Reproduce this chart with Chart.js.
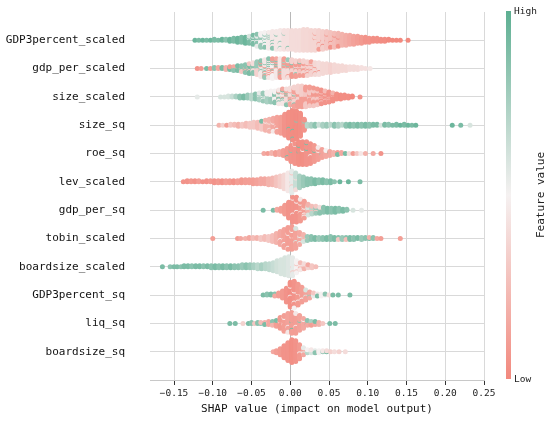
<!DOCTYPE html>
<html>
<head>
<meta charset="utf-8">
<script src="https://cdn.jsdelivr.net/npm/chart.js@4.4.1/dist/chart.umd.min.js"></script>
<style>
  html, body { margin: 0; padding: 0; background: #fff; }
  #wrap { width: 550px; height: 421px; }
</style>
</head>
<body>
<div id="wrap"><canvas id="shap-chart"></canvas></div>
<script>
// Features, top row first
const featureNames = [
  'GDP3percent_scaled', 'gdp_per_scaled', 'size_scaled', 'size_sq', 'roe_sq', 'lev_scaled',
  'gdp_per_sq', 'tobin_scaled', 'boardsize_scaled', 'GDP3percent_sq', 'liq_sq', 'boardsize_sq'
];

// Each bin: [SHAP value, number of samples, feature value 0 = low .. 1 = high]
const gdp3percentScaled = [
  [-0.123,1,0.95],[-0.118,1,0.9],[-0.113,1,0.95],[-0.108,1,0.9],[-0.103,1,0.95],[-0.098,2,0.9],[-0.093,1,0.9],
  [-0.088,2,0.95],[-0.083,2,0.85],[-0.078,3,0.95],[-0.073,4,0.9],[-0.068,5,0.95],[-0.063,6,0.9],[-0.058,7,0.95],
  [-0.053,6,0.9],[-0.053,2,0.6],[-0.048,7,0.9],[-0.048,3,0.55],[-0.043,8,0.85],[-0.043,5,0.55],[-0.038,7,0.8],
  [-0.038,8,0.5],[-0.033,5,0.85],[-0.033,11,0.5],[-0.028,4,0.8],[-0.028,13,0.47],[-0.023,3,0.85],[-0.023,15,0.45],
  [-0.018,2,0.85],[-0.018,17,0.45],[-0.013,2,0.8],[-0.013,18,0.45],[-0.008,1,0.8],[-0.008,19,0.42],[-0.003,19,0.42],
  [-0.003,1,0.85],[0.002,20,0.4],[0.007,21,0.4],[0.012,21,0.4],[0.017,22,0.38],[0.022,22,0.38],[0.027,21,0.37],
  [0.032,19,0.37],[0.032,2,0.1],[0.037,18,0.35],[0.037,2,0.1],[0.042,17,0.33],[0.042,2,0.05],[0.047,16,0.3],
  [0.047,2,0.1],[0.052,14,0.28],[0.052,2,0.05],[0.057,13,0.25],[0.057,2,0.05],[0.062,12,0.22],[0.062,2,0.05],
  [0.067,12,0.2],[0.072,11,0.18],[0.077,10,0.15],[0.082,9,0.12],[0.087,8,0.1],[0.092,7,0.08],[0.097,6,0.05],
  [0.102,5,0.05],[0.107,4,0.03],[0.112,4,0.03],[0.117,3,0.02],[0.122,3,0.02],[0.127,2,0],[0.132,1,0],
  [0.137,1,0],[0.142,1,0],[0.152,1,0]
];
const gdpPerScaled = [
  [-0.12,1,0.05],[-0.115,1,0.1],[-0.108,1,0.9],[-0.103,1,0.1],[-0.098,2,0.85],[-0.093,2,0.15],[-0.088,2,0.9],
  [-0.083,2,0.2],[-0.083,1,0.9],[-0.078,3,0.9],[-0.078,1,0.1],[-0.073,3,0.85],[-0.073,2,0.15],[-0.068,4,0.9],
  [-0.068,2,0.2],[-0.063,5,0.85],[-0.063,2,0.3],[-0.058,6,0.85],[-0.058,3,0.2],[-0.053,7,0.9],[-0.053,4,0.3],
  [-0.048,7,0.85],[-0.048,5,0.4],[-0.043,7,0.8],[-0.043,7,0.35],[-0.038,6,0.85],[-0.038,8,0.45],[-0.038,3,0.1],
  [-0.033,6,0.8],[-0.033,10,0.45],[-0.033,3,0.1],[-0.028,5,0.85],[-0.028,10,0.45],[-0.028,5,0.1],[-0.023,4,0.8],
  [-0.023,11,0.5],[-0.023,6,0.1],[-0.018,4,0.85],[-0.018,10,0.45],[-0.018,6,0.15],[-0.013,3,0.8],[-0.013,10,0.45],
  [-0.013,7,0.1],[-0.008,3,0.75],[-0.008,10,0.4],[-0.008,7,0.1],[-0.003,2,0.8],[-0.003,10,0.4],[-0.003,7,0.1],
  [0.002,2,0.85],[0.002,8,0.35],[0.002,8,0.08],[0.007,2,0.8],[0.007,8,0.35],[0.007,7,0.1],[0.012,1,0.85],
  [0.012,8,0.3],[0.012,7,0.1],[0.017,1,0.8],[0.017,9,0.35],[0.017,6,0.1],[0.022,10,0.35],[0.022,5,0.1],
  [0.027,10,0.35],[0.027,4,0.12],[0.032,10,0.38],[0.032,3,0.1],[0.037,11,0.4],[0.037,2,0.1],[0.042,11,0.38],
  [0.047,10,0.38],[0.052,9,0.35],[0.057,8,0.38],[0.062,7,0.38],[0.067,6,0.38],[0.072,5,0.38],[0.077,4,0.4],
  [0.082,4,0.4],[0.087,3,0.4],[0.092,2,0.42],[0.097,1,0.42],[0.103,1,0.45]
];
const sizeScaled = [
  [-0.12,1,0.55],[-0.09,1,0.6],[-0.085,1,0.6],[-0.08,2,0.6],[-0.075,2,0.65],[-0.07,2,0.75],[-0.065,3,0.85],
  [-0.06,3,0.9],[-0.055,4,0.8],[-0.05,5,0.7],[-0.045,5,0.85],[-0.045,1,0.55],[-0.04,6,0.75],[-0.04,2,0.55],
  [-0.035,6,0.8],[-0.035,3,0.5],[-0.03,6,0.75],[-0.03,5,0.5],[-0.025,6,0.8],[-0.025,6,0.5],[-0.02,6,0.85],
  [-0.02,7,0.5],[-0.015,5,0.85],[-0.015,8,0.45],[-0.015,2,0.15],[-0.01,4,0.9],[-0.01,9,0.45],[-0.01,3,0.15],
  [-0.005,3,0.85],[-0.005,9,0.4],[-0.005,5,0.15],[0,2,0.9],[0,9,0.4],[0,7,0.15],[0.005,2,0.85],[0.005,10,0.35],
  [0.005,9,0.12],[0.01,1,0.85],[0.01,11,0.35],[0.01,10,0.1],[0.015,11,0.33],[0.015,11,0.1],[0.02,10,0.3],
  [0.02,11,0.1],[0.025,9,0.3],[0.025,11,0.1],[0.03,8,0.3],[0.03,11,0.08],[0.035,7,0.3],[0.035,10,0.08],
  [0.04,5,0.25],[0.04,10,0.05],[0.045,4,0.25],[0.045,9,0.05],[0.05,3,0.2],[0.05,8,0.05],[0.055,2,0.2],
  [0.055,7,0.03],[0.06,6,0.03],[0.065,5,0.02],[0.07,4,0.02],[0.075,3,0.02],[0.08,2,0],[0.09,1,0.05]
];
const sizeSq = [
  [-0.092,1,0.2],[-0.087,1,0.35],[-0.082,1,0.1],[-0.077,2,0.3],[-0.072,2,0.25],[-0.067,3,0.2],[-0.062,3,0.3],
  [-0.057,4,0.25],[-0.052,5,0.3],[-0.047,6,0.3],[-0.042,7,0.25],[-0.037,8,0.3],[-0.037,1,0.9],[-0.032,9,0.2],
  [-0.032,2,0.45],[-0.027,10,0.2],[-0.027,3,0.4],[-0.022,12,0.15],[-0.022,2,0.45],[-0.017,14,0.12],[-0.017,2,0.5],
  [-0.012,17,0.1],[-0.007,22,0.05],[-0.002,26,0.03],[-0.002,1,0.9],[0.003,29,0.02],[0.003,2,0.9],[0.008,28,0.02],
  [0.008,1,0.85],[0.013,24,0.03],[0.018,10,0.05],[0.018,2,0.8],[0.022,3,0.7],[0.027,3,0.75],[0.032,3,0.85],
  [0.037,2,0.65],[0.042,3,0.75],[0.047,3,0.8],[0.052,2,0.7],[0.057,3,0.85],[0.062,3,0.75],[0.067,2,0.7],
  [0.072,3,0.85],[0.077,3,0.9],[0.082,3,0.85],[0.087,3,0.9],[0.092,3,0.85],[0.097,3,0.9],[0.102,3,0.85],
  [0.107,2,0.9],[0.112,2,0.9],[0.117,1,0.6],[0.122,2,0.9],[0.127,2,0.85],[0.132,1,0.9],[0.137,2,0.9],
  [0.142,1,0.95],[0.147,2,0.9],[0.152,1,0.95],[0.157,1,0.9],[0.162,1,0.95],[0.209,1,0.95],[0.22,1,0.9],
  [0.232,1,0.6]
];
const roeSq = [
  [-0.034,1,0.15],[-0.029,1,0.1],[-0.024,2,0.2],[-0.019,3,0.1],[-0.014,4,0.15],[-0.009,6,0.1],[-0.004,10,0.08],
  [-0.004,1,0.9],[0.001,16,0.05],[0.001,1,0.85],[0.006,20,0.05],[0.006,1,0.4],[0.011,22,0.03],[0.011,2,0.9],
  [0.016,23,0.03],[0.016,1,0.5],[0.021,22,0.05],[0.021,2,0.9],[0.026,20,0.05],[0.026,1,0.45],[0.031,16,0.08],
  [0.031,1,0.9],[0.036,11,0.1],[0.036,2,0.45],[0.041,8,0.12],[0.041,1,0.85],[0.046,6,0.15],[0.046,1,0.5],
  [0.051,4,0.15],[0.051,1,0.9],[0.056,3,0.2],[0.061,2,0.1],[0.061,1,0.9],[0.066,2,0.15],[0.071,1,0.9],
  [0.076,1,0.4],[0.081,1,0.1],[0.086,1,0.3],[0.091,1,0.45],[0.097,1,0.2],[0.107,1,0.15],[0.117,1,0.05]
];
const levScaled = [
  [-0.138,1,0.05],[-0.133,2,0.05],[-0.128,2,0.08],[-0.123,2,0.05],[-0.118,2,0.1],[-0.113,1,0.05],[-0.108,2,0.05],
  [-0.103,2,0.08],[-0.098,3,0.05],[-0.093,3,0.08],[-0.088,3,0.05],[-0.083,3,0.1],[-0.078,3,0.08],[-0.073,3,0.05],
  [-0.068,3,0.1],[-0.063,4,0.08],[-0.058,4,0.1],[-0.053,4,0.1],[-0.048,5,0.1],[-0.043,5,0.12],[-0.038,6,0.15],
  [-0.033,6,0.15],[-0.028,7,0.2],[-0.023,8,0.22],[-0.018,10,0.28],[-0.013,12,0.33],[-0.008,15,0.38],
  [-0.003,19,0.45],[0.002,20,0.55],[0.002,3,0.3],[0.007,16,0.65],[0.007,2,0.4],[0.012,13,0.75],[0.017,10,0.8],
  [0.022,7,0.85],[0.027,6,0.85],[0.032,5,0.9],[0.037,4,0.85],[0.042,4,0.9],[0.047,3,0.85],[0.052,3,0.9],
  [0.057,1,0.85],[0.064,1,0.95],[0.075,1,0.95],[0.09,1,0.9]
];
const gdpPerSq = [
  [-0.035,1,0.9],[-0.022,1,0.9],[-0.017,2,0.15],[-0.012,4,0.1],[-0.007,10,0.08],[-0.002,17,0.05],[0.003,24,0.05],
  [0.003,2,0.45],[0.008,24,0.05],[0.008,2,0.5],[0.013,20,0.08],[0.013,3,0.45],[0.018,14,0.1],[0.018,4,0.5],
  [0.023,7,0.2],[0.023,5,0.6],[0.028,4,0.25],[0.028,5,0.7],[0.033,3,0.3],[0.033,5,0.8],[0.038,2,0.4],
  [0.038,5,0.85],[0.043,1,0.3],[0.043,5,0.85],[0.048,5,0.9],[0.053,5,0.85],[0.058,5,0.9],[0.063,4,0.85],
  [0.068,3,0.9],[0.073,2,0.85],[0.081,1,0.6],[0.092,1,0.55]
];
const tobinScaled = [
  [-0.1,1,0.1],[-0.068,1,0.1],[-0.064,1,0.15],[-0.058,1,0.2],[-0.053,2,0.15],[-0.048,2,0.25],[-0.043,2,0.2],
  [-0.038,3,0.3],[-0.033,4,0.25],[-0.028,5,0.3],[-0.023,7,0.25],[-0.018,10,0.2],[-0.013,13,0.15],[-0.013,1,0.5],
  [-0.008,17,0.12],[-0.008,2,0.5],[-0.003,21,0.1],[-0.003,2,0.45],[0.002,22,0.1],[0.002,2,0.5],[0.007,19,0.12],
  [0.007,2,0.6],[0.012,10,0.15],[0.012,3,0.55],[0.017,5,0.2],[0.017,3,0.6],[0.022,2,0.3],[0.022,3,0.8],
  [0.027,3,0.85],[0.027,1,0.2],[0.032,3,0.9],[0.037,2,0.8],[0.037,1,0.25],[0.042,3,0.85],[0.047,3,0.9],
  [0.052,3,0.85],[0.052,1,0.2],[0.057,3,0.9],[0.062,2,0.85],[0.062,1,0.3],[0.067,3,0.8],[0.072,2,0.85],
  [0.072,1,0.25],[0.077,3,0.9],[0.082,2,0.85],[0.082,1,0.3],[0.087,2,0.9],[0.092,2,0.8],[0.092,1,0.2],
  [0.097,2,0.85],[0.102,1,0.9],[0.102,1,0.2],[0.107,2,0.85],[0.112,1,0.15],[0.117,1,0.1],[0.142,1,0.1]
];
const boardsizeScaled = [
  [-0.165,1,0.9],[-0.155,1,0.85],[-0.15,1,0.9],[-0.146,1,0.9],[-0.141,1,0.85],[-0.137,2,0.9],[-0.132,2,0.9],
  [-0.127,2,0.85],[-0.122,2,0.9],[-0.117,2,0.9],[-0.112,2,0.85],[-0.107,2,0.9],[-0.102,3,0.85],[-0.097,3,0.9],
  [-0.092,3,0.85],[-0.087,3,0.9],[-0.082,3,0.85],[-0.077,3,0.9],[-0.072,3,0.85],[-0.067,3,0.85],[-0.062,4,0.8],
  [-0.057,4,0.85],[-0.052,4,0.8],[-0.047,4,0.75],[-0.042,5,0.7],[-0.037,5,0.75],[-0.032,6,0.7],[-0.027,7,0.68],
  [-0.022,9,0.65],[-0.017,12,0.62],[-0.012,15,0.6],[-0.007,18,0.6],[-0.002,20,0.58],[0.003,17,0.55],[0.003,2,0.3],
  [0.008,10,0.5],[0.008,3,0.3],[0.013,5,0.45],[0.013,3,0.25],[0.018,3,0.4],[0.018,3,0.2],[0.023,2,0.35],
  [0.023,2,0.15],[0.028,2,0.3],[0.028,1,0.1],[0.033,1,0.25]
];
const gdp3percentSq = [
  [-0.035,1,0.9],[-0.03,2,0.85],[-0.025,2,0.9],[-0.02,2,0.85],[-0.02,1,0.15],[-0.015,4,0.1],[-0.01,8,0.08],
  [-0.005,15,0.05],[0,24,0.03],[0,2,0.5],[0.005,25,0.05],[0.005,3,0.5],[0.01,20,0.08],[0.01,2,0.45],
  [0.015,14,0.1],[0.015,2,0.5],[0.02,9,0.12],[0.02,2,0.6],[0.025,5,0.15],[0.025,2,0.8],[0.03,2,0.3],
  [0.03,2,0.55],[0.035,2,0.45],[0.035,1,0.9],[0.04,2,0.5],[0.04,1,0.3],[0.045,1,0.55],[0.045,1,0.85],
  [0.05,1,0.4],[0.055,1,0.9],[0.062,1,0.9],[0.077,1,0.9]
];
const liqSq = [
  [-0.078,1,0.9],[-0.071,1,0.9],[-0.061,1,0.35],[-0.054,1,0.9],[-0.05,2,0.85],[-0.046,1,0.3],[-0.042,2,0.85],
  [-0.038,1,0.25],[-0.038,1,0.85],[-0.033,2,0.2],[-0.033,1,0.9],[-0.028,3,0.15],[-0.028,1,0.5],[-0.023,3,0.2],
  [-0.023,2,0.85],[-0.018,6,0.1],[-0.018,1,0.9],[-0.013,11,0.08],[-0.013,1,0.45],[-0.008,15,0.1],[-0.008,2,0.5],
  [-0.003,18,0.12],[-0.003,2,0.45],[0.002,20,0.1],[0.002,2,0.9],[0.007,19,0.1],[0.007,2,0.45],[0.012,15,0.12],
  [0.012,1,0.85],[0.017,9,0.15],[0.017,2,0.5],[0.022,4,0.15],[0.022,2,0.85],[0.027,3,0.1],[0.027,2,0.75],
  [0.032,3,0.15],[0.032,1,0.9],[0.037,2,0.2],[0.037,1,0.85],[0.042,1,0.3],[0.051,1,0.9],[0.058,1,0.9]
];
const boardsizeSq = [
  [-0.022,1,0.15],[-0.018,3,0.1],[-0.013,7,0.08],[-0.008,13,0.05],[-0.003,19,0.05],[0.002,24,0.03],[0.007,22,0.05],
  [0.012,14,0.08],[0.012,1,0.5],[0.017,5,0.15],[0.017,3,0.55],[0.022,2,0.5],[0.022,2,0.7],[0.027,2,0.45],
  [0.027,2,0.6],[0.032,2,0.55],[0.032,1,0.85],[0.037,2,0.5],[0.037,1,0.3],[0.042,1,0.45],[0.042,1,0.8],
  [0.047,1,0.9],[0.047,1,0.4],[0.052,1,0.35],[0.057,1,0.4],[0.063,1,0.35],[0.071,1,0.4]
];

const featureBins = [
  gdp3percentScaled, gdpPerScaled, sizeScaled, sizeSq, roeSq, levScaled,
  gdpPerSq, tobinScaled, boardsizeScaled, gdp3percentSq, liqSq, boardsizeSq
];

const xTicks = [-0.15, -0.10, -0.05, 0, 0.05, 0.10, 0.15, 0.20, 0.25];
const xTickLabels = ['\u22120.15', '\u22120.10', '\u22120.05', '0.00', '0.05', '0.10', '0.15', '0.20', '0.25'];

const FONT = "'DejaVu Sans Mono', 'Liberation Mono', monospace";
const LOW = [242, 137, 126];
const MID = [245, 241, 241];
const HIGH = [93, 175, 146];
const SWARM_STEP = 0.035; // vertical spacing of stacked dots, in rows

const rgb = (c) => `rgb(${c.map(Math.round).join(',')})`;

function featureColor(f) {
  const [a, b, t] = f < 0.5 ? [LOW, MID, f / 0.5] : [MID, HIGH, (f - 0.5) / 0.5];
  return rgb(a.map((v, i) => v + (b[i] - v) * t));
}

// Stack the samples of each bin around the row line; colours are spread
// through the stack by error diffusion, with a different phase per column
function buildSwarm(bins, row) {
  const groups = new Map();
  bins.forEach(([x, n, f]) => {
    if (!groups.has(x)) groups.set(x, []);
    groups.get(x).push({ n, f });
  });
  const points = [];
  let col = 0;
  groups.forEach((list, x) => {
    const total = list.reduce((s, g) => s + g.n, 0);
    list.forEach((g, i) => { g.err = ((col * 0.618) + i * 0.37) % 1; g.left = g.n; });
    for (let k = 0; k < total; k++) {
      list.forEach((g) => { g.err += g.n / total; });
      let pick = null;
      list.forEach((g) => { if (g.left > 0 && (!pick || g.err > pick.err)) pick = g; });
      pick.err -= 1;
      pick.left--;
      const slot = Math.ceil(k / 2) * (k % 2 ? 1 : -1);
      points.push({ x, y: row + slot * SWARM_STEP, f: pick.f });
    }
    col++;
  });
  return points;
}

const datasets = featureBins.map((bins, i) => {
  const pts = buildSwarm(bins, featureNames.length - 1 - i);
  return {
    label: featureNames[i],
    data: pts.map((p) => ({ x: p.x, y: p.y })),
    backgroundColor: pts.map((p) => featureColor(p.f)),
    borderWidth: 0,
    pointRadius: 2.5,
    pointHoverRadius: 2.5,
  };
});

// Colour bar on the right
const colorBar = {
  id: 'colorBar',
  afterDraw(chart) {
    const { ctx, chartArea } = chart;
    const left = chartArea.right + 22;
    const top = chartArea.top - 1;
    const bottom = chartArea.bottom - 1;
    const grad = ctx.createLinearGradient(0, top, 0, bottom);
    grad.addColorStop(0, rgb(HIGH));
    grad.addColorStop(0.5, rgb(MID));
    grad.addColorStop(1, rgb(LOW));
    ctx.save();
    ctx.fillStyle = grad;
    ctx.fillRect(left, top, 5, bottom - top);
    ctx.fillStyle = '#222';
    ctx.font = `9.5px ${FONT}`;
    ctx.textBaseline = 'middle';
    ctx.textAlign = 'left';
    ctx.fillText('High', left + 8, top + 1);
    ctx.fillText('Low', left + 8, bottom + 1);
    ctx.translate(left + 35, (top + bottom) / 2);
    ctx.rotate(-Math.PI / 2);
    ctx.textAlign = 'center';
    ctx.font = `11px ${FONT}`;
    ctx.fillText('Feature value', 0, 0);
    ctx.restore();
  }
};

new Chart(document.getElementById('shap-chart'), {
  type: 'scatter',
  data: { datasets },
  options: {
    responsive: true,
    maintainAspectRatio: false,
    animation: false,
    layout: { autoPadding: false, padding: { left: 6, right: 66, top: 12, bottom: 5 } },
    plugins: { legend: { display: false }, tooltip: { enabled: false } },
    scales: {
      x: {
        type: 'linear',
        min: -0.181,
        max: 0.25,
        afterBuildTicks: (axis) => { axis.ticks = xTicks.map((v) => ({ value: v })); },
        afterFit: (axis) => { axis.height = 36; axis.paddingLeft = 0; axis.paddingRight = 0; },
        ticks: {
          callback: (v, i) => xTickLabels[i],
          font: { family: FONT, size: 9.5 },
          color: '#222',
          padding: 3,
          maxRotation: 0,
          autoSkip: false,
        },
        grid: {
          color: (c) => (c.tick && c.tick.value === 0 ? '#b8b8b8' : '#d9d9d9'),
          tickLength: 5,
          tickColor: '#333',
        },
        border: { display: true, color: '#c8c8c8' },
        title: {
          display: true,
          text: 'SHAP value (impact on model output)',
          font: { family: FONT, size: 11 },
          color: '#111',
          padding: { top: 3, bottom: 0 },
        },
      },
      y: {
        type: 'linear',
        min: -1,
        max: 12,
        afterBuildTicks: (axis) => { axis.ticks = featureNames.map((_, i) => ({ value: i })); },
        afterFit: (axis) => { axis.width = 144; axis.paddingTop = 0; axis.paddingBottom = 0; },
        ticks: {
          callback: (v) => featureNames[featureNames.length - 1 - Math.round(v)],
          font: { family: FONT, size: 11 },
          color: '#111',
          padding: 25,
          autoSkip: false,
        },
        grid: { color: '#d9d9d9', drawTicks: false },
        border: { display: false },
      },
    },
  },
  plugins: [colorBar],
});
</script>
</body>
</html>
